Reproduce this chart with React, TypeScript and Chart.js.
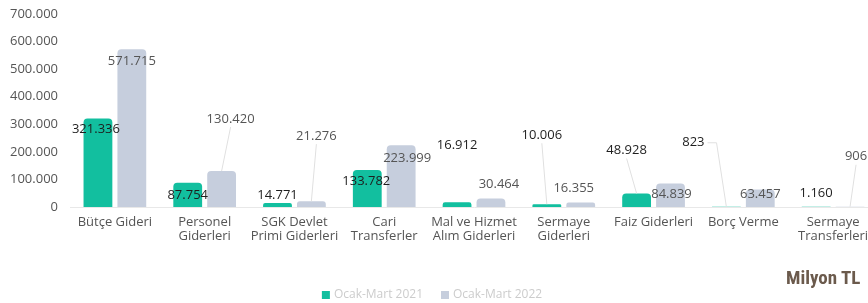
import React, { useEffect, useRef } from "react";
import { Chart, registerables } from "chart.js";

Chart.register(...registerables);

const categories: string[][] = [
  ["Bütçe Gideri"],
  ["Personel", "Giderleri"],
  ["SGK Devlet", "Primi Giderleri"],
  ["Cari", "Transferler"],
  ["Mal ve Hizmet", "Alım Giderleri"],
  ["Sermaye", "Giderleri"],
  ["Faiz Giderleri"],
  ["Borç Verme"],
  ["Sermaye", "Transferleri"],
];

const series2021: number[] = [321336, 87754, 14771, 133782, 16912, 10006, 48928, 823, 1160];
const series2022: number[] = [571715, 130420, 21276, 223999, 30464, 16355, 84839, 63457, 906];

const seriesNames: string[] = ["Ocak-Mart 2021", "Ocak-Mart 2022"];
const yTicks: number[] = [0, 100000, 200000, 300000, 400000, 500000, 600000, 700000];

// label placement (dx, dy in px relative to bar top, leader style)
const labelPlacement2021: [number, number, string][] = [
  [-2, 11, ""], [0, 12, ""], [0, -8, ""], [-1, 11, ""], [0, -57, ""],
  [-5, -69, "line"], [-10, -43, "line"], [-33, -64, "elbow"], [0, -13, ""],
];
const labelPlacement2022: [number, number, string][] = [
  [0, 12, ""], [9, -52, "line"], [5, -65, "line"], [6, 13, ""], [8, -14, ""],
  [-7, -14, ""], [1, 11, ""], [0, 5, ""], [6, -50, "line"],
];

const fmt = (v: number) => String(Math.round(v)).replace(/\B(?=(\d{3})+(?!\d))/g, ".");

const FONT = "'Open Sans', 'Noto Sans', sans-serif";
const COLORS = ["#12bf9f", "#c6cedd"];

const labelPlugin = {
  id: "barLabels",
  afterDatasetsDraw(chart: any) {
    const ctx = chart.ctx;
    const placements = [labelPlacement2021, labelPlacement2022];
    const colors = ["#1e1e1e", "#555555"];
    ctx.save();
    chart.data.datasets.forEach((ds: any, di: number) => {
      const meta = chart.getDatasetMeta(di);
      meta.data.forEach((el: any, i: number) => {
        const [dx, dy, leader] = placements[di][i];
        const text = fmt(ds.data[i]);
        const lx = el.x + dx;
        const ly = el.y + dy;
        ctx.font = `${di === 0 ? 500 : 400} 13px ${FONT}`;
        const w = ctx.measureText(text).width;
        ctx.strokeStyle = "#e0e0e0";
        ctx.lineWidth = 1;
        if (leader === "line") {
          ctx.beginPath();
          ctx.moveTo(lx, ly + 8);
          ctx.lineTo(el.x, el.y);
          ctx.stroke();
        } else if (leader === "elbow") {
          ctx.beginPath();
          ctx.moveTo(lx + w / 2 + 3, ly);
          ctx.lineTo(lx + w / 2 + 12, ly);
          ctx.lineTo(el.x, el.y);
          ctx.stroke();
        }
        ctx.fillStyle = colors[di];
        ctx.textAlign = "center";
        ctx.textBaseline = "middle";
        ctx.fillText(text, lx, ly);
      });
    });
    ctx.restore();
  },
};

const legendPlugin = {
  id: "bottomLegend",
  afterDraw(chart: any) {
    const ctx = chart.ctx;
    ctx.save();
    ctx.font = `400 12px ${FONT}`;
    const box = 8;
    const gapBoxText = 4;
    const gapItems = 18;
    const names = chart.data.datasets.map((d: any) => d.label);
    const widths = names.map((n: string) => box + gapBoxText + ctx.measureText(n).width);
    const total = widths.reduce((a: number, b: number) => a + b, 0) + gapItems * (names.length - 1);
    let x = 432 - total / 2;
    const y = 295;
    names.forEach((n: string, i: number) => {
      ctx.fillStyle = COLORS[i];
      ctx.fillRect(x, y - box / 2, box, box);
      ctx.fillStyle = "#cccccc";
      ctx.textAlign = "left";
      ctx.textBaseline = "middle";
      ctx.fillText(n, x + box + gapBoxText, y);
      x += widths[i] + gapItems;
    });
    ctx.restore();
  },
};

export default function App() {
  const ref = useRef<HTMLCanvasElement | null>(null);

  useEffect(() => {
    document.body.style.margin = "0";
    document.body.style.overflow = "hidden";
    if (!ref.current) return;
    const chart = new Chart(ref.current, {
      type: "bar",
      data: {
        labels: categories,
        datasets: [
          {
            label: seriesNames[0],
            data: series2021,
            backgroundColor: COLORS[0],
            borderRadius: { topLeft: 4, topRight: 4 },
            borderSkipped: "bottom",
            barPercentage: 0.85,
            categoryPercentage: 0.755,
          },
          {
            label: seriesNames[1],
            data: series2022,
            backgroundColor: COLORS[1],
            borderRadius: { topLeft: 4, topRight: 4 },
            borderSkipped: "bottom",
            barPercentage: 0.85,
            categoryPercentage: 0.755,
          },
        ],
      },
      options: {
        animation: false,
        responsive: false,
        maintainAspectRatio: false,
        layout: { padding: { top: 14, left: 0, right: 0, bottom: 0 } },
        plugins: {
          tooltip: { enabled: false },
          legend: { display: false },
        },
        scales: {
          x: {
            grid: { display: false, drawTicks: false },
            border: { display: true, color: "#e8e8e8" },
            ticks: {
              color: "#555555",
              font: { size: 13, family: FONT, lineHeight: 1.1 },
              padding: 8,
              maxRotation: 0,
              autoSkip: false,
            },
            afterFit(scale: any) {
              scale.height = 96;
            },
          },
          y: {
            min: 0,
            max: 700000,
            afterBuildTicks(scale: any) {
              scale.ticks = yTicks.map((v) => ({ value: v }));
            },
            grid: { display: false, drawTicks: false },
            border: { display: false },
            ticks: {
              color: "#555555",
              font: { size: 13, family: FONT },
              padding: 12,
              callback: (v: any) => fmt(Number(v)),
            },
            afterFit(scale: any) {
              scale.width = 70;
              scale.paddingTop = 0;
              scale.paddingBottom = 0;
            },
          },
        },
      },
      plugins: [labelPlugin, legendPlugin],
    });
    return () => chart.destroy();
  }, []);

  return (
    <div style={{ position: "relative", width: 878, height: 303, background: "#fff" }}>
      <canvas ref={ref} width={878} height={303} style={{ display: "block" }} />
      <div
        style={{
          position: "absolute",
          left: 786,
          top: 268,
          fontFamily: "'Liberation Sans Narrow', 'Roboto Condensed', sans-serif",
          fontWeight: 700,
          fontSize: 19,
          color: "#6b5a4c",
          whiteSpace: "nowrap",
          lineHeight: "20px",
        }}
      >
        Milyon TL
      </div>
    </div>
  );
}
